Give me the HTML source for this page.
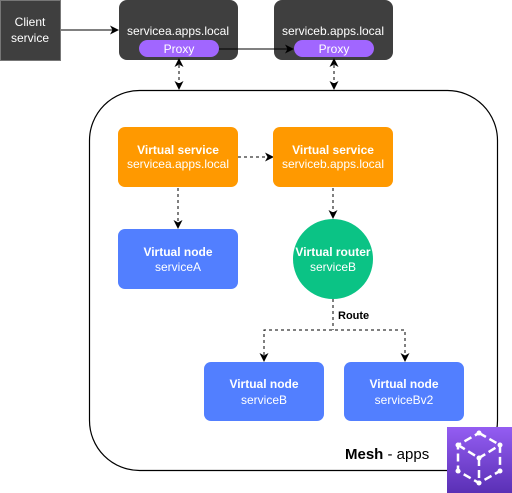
<!DOCTYPE html>
<html><head><style>body{margin:0;background:#fff}svg{display:block}text{font-family:"Liberation Sans",sans-serif}</style></head><body>
<svg width="512" height="493" viewBox="0 0 512 493" xmlns="http://www.w3.org/2000/svg">
<defs><marker id="a" markerWidth="9" markerHeight="9" refX="8" refY="4.5" orient="auto" markerUnits="userSpaceOnUse"><path d="M0,0 L9,4.5 L0,9 L2.5,4.5z" fill="#000"/></marker>
<marker id="b" markerWidth="9" markerHeight="9" refX="1" refY="4.5" orient="auto" markerUnits="userSpaceOnUse"><path d="M9,0 L0,4.5 L9,9 L6.5,4.5z" fill="#000"/></marker>
<linearGradient id="g" x1="0" y1="0" x2="0" y2="1"><stop offset="0" stop-color="#945DF2"/><stop offset="1" stop-color="#5A30B5"/></linearGradient></defs>
<rect x="89.5" y="90.5" width="408" height="380" rx="50" fill="none" stroke="#000" stroke-width="1.2"/>
<rect x="0.5" y="0.5" width="60" height="60" fill="#3F3F3F" stroke="#777"/>
<text x="30" y="26" font-size="12" fill="#fff" text-anchor="middle">Client</text>
<text x="30" y="42" font-size="12" fill="#fff" text-anchor="middle">service</text>
<rect x="119" y="0" width="119" height="60" rx="8" fill="#3F3F3F"/>
<text x="178" y="35" font-size="12" fill="#fff" text-anchor="middle">servicea.apps.local</text>
<rect x="139" y="40" width="80" height="17" rx="8.5" fill="#A166FF"/>
<text x="179" y="53" font-size="12" fill="#fff" text-anchor="middle">Proxy</text>
<rect x="274" y="0" width="119" height="60" rx="8" fill="#3F3F3F"/>
<text x="333" y="35" font-size="12" fill="#fff" text-anchor="middle">serviceb.apps.local</text>
<rect x="294" y="40" width="80" height="17" rx="8.5" fill="#A166FF"/>
<text x="334" y="53" font-size="12" fill="#fff" text-anchor="middle">Proxy</text>
<line x1="61" y1="30" x2="118" y2="30" stroke="#000" marker-end="url(#a)"/>
<line x1="219" y1="49" x2="293" y2="49" stroke="#000" marker-end="url(#a)"/>
<g stroke="#000" stroke-dasharray="3,3" fill="none">
<line x1="179" y1="59" x2="179" y2="89" marker-start="url(#b)" marker-end="url(#a)"/>
<line x1="334" y1="59" x2="334" y2="89" marker-start="url(#b)" marker-end="url(#a)"/>
<line x1="238" y1="157" x2="273" y2="157" marker-end="url(#a)"/>
<line x1="178" y1="188" x2="178" y2="228" marker-end="url(#a)"/>
<line x1="333" y1="188" x2="333" y2="218" marker-end="url(#a)"/>
<polyline points="333,299 333,330"/>
<polyline points="264,361 264,330 405,330 405,361" marker-end="url(#a)"/>
<line x1="264" y1="340" x2="264" y2="361" marker-end="url(#a)"/>
</g>
<rect x="118" y="127" width="120" height="60" rx="7" fill="#FF9900"/>
<text x="178" y="154" font-size="12" font-weight="bold" fill="#fff" text-anchor="middle">Virtual service</text>
<text x="178" y="168" font-size="12" fill="#fff" text-anchor="middle">servicea.apps.local</text>
<rect x="273" y="127" width="120" height="60" rx="7" fill="#FF9900"/>
<text x="333" y="154" font-size="12" font-weight="bold" fill="#fff" text-anchor="middle">Virtual service</text>
<text x="333" y="168" font-size="12" fill="#fff" text-anchor="middle">serviceb.apps.local</text>
<rect x="118" y="229" width="120" height="60" rx="7" fill="#527FFF"/>
<text x="178" y="256" font-size="12" font-weight="bold" fill="#fff" text-anchor="middle">Virtual node</text>
<text x="178" y="271" font-size="12" fill="#fff" text-anchor="middle">serviceA</text>
<circle cx="333" cy="259" r="40" fill="#0BC385"/>
<text x="333" y="256" font-size="12" font-weight="bold" fill="#fff" text-anchor="middle">Virtual router</text>
<text x="333" y="271" font-size="12" fill="#fff" text-anchor="middle">serviceB</text>
<text x="338" y="319" font-size="11" font-weight="bold" fill="#000">Route</text>
<rect x="204" y="362" width="120" height="59" rx="7" fill="#527FFF"/>
<text x="264" y="388" font-size="12" font-weight="bold" fill="#fff" text-anchor="middle">Virtual node</text>
<text x="264" y="404" font-size="12" fill="#fff" text-anchor="middle">serviceB</text>
<rect x="344" y="362" width="120" height="59" rx="7" fill="#527FFF"/>
<text x="404" y="388" font-size="12" font-weight="bold" fill="#fff" text-anchor="middle">Virtual node</text>
<text x="404" y="404" font-size="12" fill="#fff" text-anchor="middle">serviceBv2</text>
<text x="345" y="459" font-size="15" fill="#000"><tspan font-weight="bold">Mesh</tspan> - apps</text>
<rect x="447" y="427" width="65" height="66" fill="url(#g)"/>
<g stroke="#fff" stroke-width="2.5" fill="none" stroke-dasharray="8,4">
<path d="M479,433 L500,445 L500,471 L479,483 L458,471 L458,445 Z"/>
<path d="M458,445 L479,458 L500,445 M479,458 L479,483"/>
</g>
<g fill="#fff"><circle cx="479" cy="433" r="2.5"/><circle cx="500" cy="445" r="2.5"/><circle cx="500" cy="471" r="2.5"/><circle cx="479" cy="483" r="2.5"/><circle cx="458" cy="471" r="2.5"/><circle cx="458" cy="445" r="2.5"/><circle cx="479" cy="458" r="2.5"/></g>
</svg>
</body></html>
